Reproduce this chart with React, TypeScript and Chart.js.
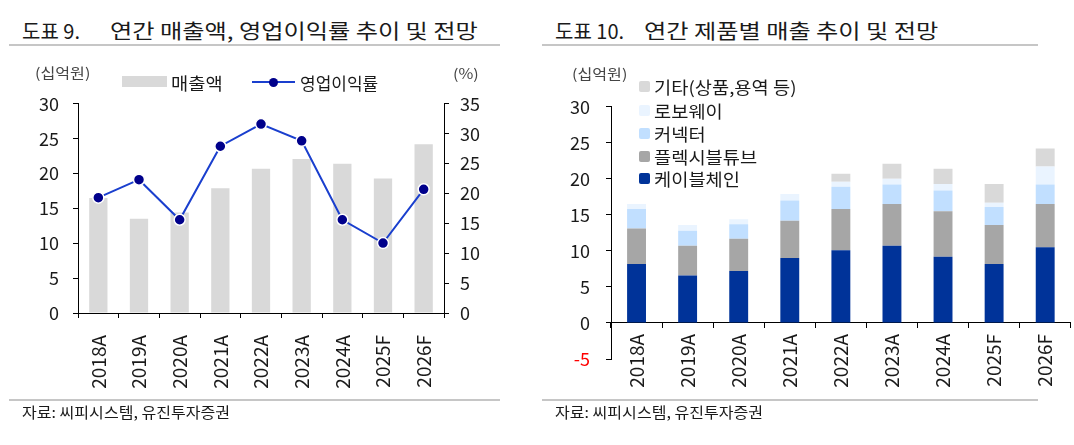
import Chart from "chart.js/auto";
import { useEffect, useRef } from "react";

// 공통 카테고리
const years = ["2018A", "2019A", "2020A", "2021A", "2022A", "2023A", "2024A", "2025F", "2026F"];

// 도표 9: 매출액(십억원), 영업이익률(%)
const revenue = [16.5, 13.5, 14.4, 17.9, 20.7, 22.1, 21.4, 19.3, 24.2];
const opMargin = [19.3, 22.3, 15.6, 27.9, 31.6, 28.8, 15.6, 11.7, 20.7];

// 도표 10: 제품별 매출 (십억원)
const cableChain = [8.2, 6.6, 7.2, 9.0, 10.1, 10.7, 9.2, 8.2, 10.5];
const flexTube = [4.9, 4.1, 4.5, 5.2, 5.7, 5.8, 6.3, 5.4, 6.0];
const connector = [2.7, 2.1, 2.0, 2.8, 3.1, 2.7, 2.9, 2.5, 2.7];
const roboway = [0.7, 0.8, 0.7, 0.9, 0.7, 0.8, 0.9, 0.6, 2.5];
const others = [0, 0, 0, 0, 1.1, 2.1, 2.1, 2.6, 2.5];

const FONT = "'Noto Sans CJK KR', 'Noto Sans', sans-serif";
const TEXT = "#1a1a1a";

const productSeries = [
  { label: "케이블체인", data: cableChain, color: "#003399" },
  { label: "플렉시블튜브", data: flexTube, color: "#a6a6a6" },
  { label: "커넥터", data: connector, color: "#c1dfff" },
  { label: "로보웨이", data: roboway, color: "#eaf4ff" },
  { label: "기타(상품,용역 등)", data: others, color: "#d9d9d9" },
];

const axisTicks = {
  display: true,
  drawOnChartArea: false,
  drawTicks: true,
  tickLength: 5,
  tickColor: "#000",
  color: "#000",
};

const RevenueChart = () => {
  const canvasRef = useRef<HTMLCanvasElement>(null);

  useEffect(() => {
    const ctx = canvasRef.current?.getContext("2d");
    if (!ctx) return;

    const chart = new Chart(ctx, {
      type: "bar",
      data: {
        labels: years,
        datasets: [
          {
            type: "line",
            label: "영업이익률",
            data: opMargin,
            yAxisID: "y1",
            borderColor: "#1a3fce",
            borderWidth: 2,
            pointRadius: 5.5,
            pointBackgroundColor: "#00008b",
            pointBorderColor: "#ffffff",
            pointBorderWidth: 1.5,
            order: 0,
          },
          {
            type: "bar",
            label: "매출액",
            data: revenue,
            yAxisID: "y",
            backgroundColor: "#d9d9d9",
            barPercentage: 0.45,
            categoryPercentage: 1,
            order: 1,
          },
        ],
      },
      options: {
        animation: false,
        responsive: true,
        maintainAspectRatio: false,
        layout: { padding: 0 },
        plugins: { legend: { display: false }, tooltip: { enabled: false } },
        scales: {
          x: {
            grid: { ...axisTicks, offset: true },
            border: { color: "#000", width: 1 },
            ticks: {
              minRotation: 90,
              maxRotation: 90,
              padding: 17,
              color: TEXT,
              font: { family: FONT, size: 19 },
            },
            afterFit: (s: any) => {
              s.height = 87;
            },
          },
          y: {
            position: "left",
            min: 0,
            max: 30,
            ticks: { stepSize: 5, padding: 14, color: TEXT, font: { family: FONT, size: 18 } },
            grid: axisTicks,
            border: { color: "#000", width: 1 },
            afterFit: (s: any) => {
              s.width = 78;
            },
          },
          y1: {
            position: "right",
            min: 0,
            max: 35,
            ticks: { stepSize: 5, padding: 11, color: TEXT, font: { family: FONT, size: 18 } },
            grid: axisTicks,
            border: { color: "#000", width: 1 },
            afterFit: (s: any) => {
              s.width = 86;
            },
          },
        },
      },
    });

    return () => {
      chart.destroy();
    };
  }, []);

  return <canvas ref={canvasRef}></canvas>;
};

const ProductChart = () => {
  const canvasRef = useRef<HTMLCanvasElement>(null);

  useEffect(() => {
    const ctx = canvasRef.current?.getContext("2d");
    if (!ctx) return;

    const chart = new Chart(ctx, {
      type: "bar",
      data: {
        labels: years,
        datasets: productSeries.map((s) => ({
          label: s.label,
          data: s.data,
          backgroundColor: s.color,
          barPercentage: 0.37,
          categoryPercentage: 1,
        })),
      },
      options: {
        animation: false,
        responsive: true,
        maintainAspectRatio: false,
        // x축이 0 위치에 그려지므로 아래 공간은 padding으로 확보
        layout: { padding: { top: 0, left: 0, right: 0, bottom: 41 } },
        plugins: { legend: { display: false }, tooltip: { enabled: false } },
        scales: {
          x: {
            stacked: true,
            position: { y: 0 },
            grid: { ...axisTicks, offset: true },
            border: { color: "#000", width: 1 },
            ticks: {
              minRotation: 90,
              maxRotation: 90,
              padding: 6,
              color: TEXT,
              font: { family: FONT, size: 19 },
            },
          },
          y: {
            stacked: true,
            min: -5,
            max: 30,
            ticks: {
              stepSize: 5,
              padding: 16,
              color: (c: any) => (c.tick && c.tick.value < 0 ? "#ff0000" : TEXT),
              font: { family: FONT, size: 18 },
            },
            grid: axisTicks,
            border: { color: "#000", width: 1 },
            afterFit: (s: any) => {
              s.width = 71;
            },
          },
        },
      },
    });

    return () => {
      chart.destroy();
    };
  }, []);

  return <canvas ref={canvasRef}></canvas>;
};

const abs = (left: number, cy: number, size: number, color = TEXT, sx = 1): React.CSSProperties => ({
  position: "absolute",
  left,
  top: cy,
  transform: `translateY(-50%) scaleX(${sx})`,
  transformOrigin: "left center",
  fontSize: size,
  lineHeight: 1,
  color,
  whiteSpace: "nowrap",
});

const rule = (left: number, top: number, width: number): React.CSSProperties => ({
  position: "absolute",
  left,
  top,
  width,
  height: 2,
  background: "#c6c6c6",
});

export default function App() {
  return (
    <div
      style={{
        position: "fixed",
        left: 0,
        top: 0,
        width: 1074,
        height: 445,
        background: "#fff",
        fontFamily: FONT,
        overflow: "hidden",
      }}
    >
      {/* 도표 9 */}
      <div style={{ position: "absolute", left: 0, top: 79, width: 530, height: 321 }}>
        <RevenueChart />
      </div>
      <span style={abs(22, 31, 20)}>도표 9.</span>
      <span style={abs(110, 31, 20, TEXT, 1.21)}>연간 매출액, 영업이익률 추이 및 전망</span>
      <div style={rule(9, 44, 491)} />
      <span style={abs(35, 72, 14, "#444", 1.15)}>(십억원)</span>
      <span style={abs(453, 73, 14, "#444", 1.15)}>(%)</span>
      <div style={{ position: "absolute", left: 122, top: 76, width: 45, height: 11, background: "#d9d9d9" }} />
      <span style={abs(171, 82, 17, TEXT, 1.1)}>매출액</span>
      <div style={{ position: "absolute", left: 252, top: 81, width: 43, height: 2, background: "#1a3fce" }} />
      <div
        style={{
          position: "absolute",
          left: 269,
          top: 78,
          width: 9,
          height: 9,
          borderRadius: "50%",
          background: "#00008b",
        }}
      />
      <span style={abs(300, 82, 17)}>영업이익률</span>
      <div style={rule(9, 399, 491)} />
      <span style={abs(22, 411, 15, TEXT, 1.07)}>자료: 씨피시스템, 유진투자증권</span>

      {/* 도표 10 */}
      <div style={{ position: "absolute", left: 540, top: 80, width: 534, height: 320 }}>
        <ProductChart />
      </div>
      <span style={abs(555, 31, 20)}>도표 10.</span>
      <span style={abs(644, 31, 20, TEXT, 1.21)}>연간 제품별 매출 추이 및 전망</span>
      <div style={rule(542, 44, 496)} />
      <span style={abs(572, 73, 14, "#444", 1.15)}>(십억원)</span>
      {productSeries
        .slice()
        .reverse()
        .map((s, i) => {
          const cy = [86, 110, 133, 156, 178][i];
          return (
            <div key={s.label}>
              <div
                style={{
                  position: "absolute",
                  left: 639,
                  top: cy - 5.5,
                  width: 11,
                  height: 11,
                  borderRadius: 2,
                  background: s.color,
                }}
              />
              <span style={abs(654, cy, 17, TEXT, 1.1)}>{s.label}</span>
            </div>
          );
        })}
      <div style={rule(542, 399, 496)} />
      <span style={abs(555, 411, 15, TEXT, 1.07)}>자료: 씨피시스템, 유진투자증권</span>
    </div>
  );
}
